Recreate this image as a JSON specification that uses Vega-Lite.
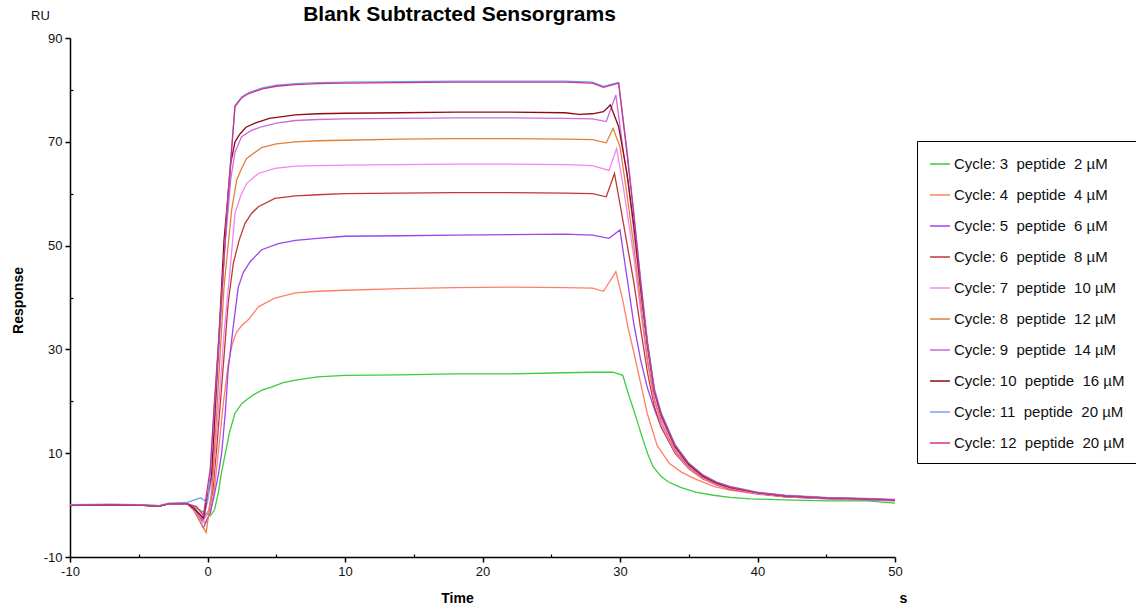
{
"$schema":"https://vega.github.io/schema/vega-lite/v6.json",
"width":825,"height":519,
"autosize":{"type":"none"},
"padding":{"left":70,"top":38,"right":241,"bottom":55},
"background":"white",
"config":{"view":{"stroke":null},"font":"Liberation Sans"},
"title":{"text":"Blank Subtracted Sensorgrams","fontSize":21,"fontWeight":"bold","font":"Liberation Sans","color":"#000","anchor":"middle","dx":-23,"dy":20,"offset":4},
"datasets":{
"names":[
{"c":3,"lab":"Cycle: 3\u00a0 peptide\u00a0 2 µM"},
{"c":4,"lab":"Cycle: 4\u00a0 peptide\u00a0 4 µM"},
{"c":5,"lab":"Cycle: 5\u00a0 peptide\u00a0 6 µM"},
{"c":6,"lab":"Cycle: 6\u00a0 peptide\u00a0 8 µM"},
{"c":7,"lab":"Cycle: 7\u00a0 peptide\u00a0 10 µM"},
{"c":8,"lab":"Cycle: 8\u00a0 peptide\u00a0 12 µM"},
{"c":9,"lab":"Cycle: 9\u00a0 peptide\u00a0 14 µM"},
{"c":10,"lab":"Cycle: 10\u00a0 peptide\u00a0 16 µM"},
{"c":11,"lab":"Cycle: 11\u00a0 peptide\u00a0 20 µM"},
{"c":12,"lab":"Cycle: 12\u00a0 peptide\u00a0 20 µM"}
],
"sg":[
{"c":3,"t":-10,"v":0},{"c":3,"t":-7,"v":0.1},{"c":3,"t":-5,"v":0.1},{"c":3,"t":-3.5,"v":-0.1},{"c":3,"t":-2.8,"v":0.3},{"c":3,"t":-1.5,"v":0.3},{"c":3,"t":-0.8,"v":-0.6},{"c":3,"t":-0.2,"v":-1.5},{"c":3,"t":0.2,"v":-2.1},{"c":3,"t":0.5,"v":-1},{"c":3,"t":0.8,"v":2.5},{"c":3,"t":1.0,"v":6},{"c":3,"t":1.3,"v":10},{"c":3,"t":1.6,"v":14},{"c":3,"t":2.0,"v":17.7},{"c":3,"t":2.5,"v":19.6},{"c":3,"t":3.3,"v":21.2},{"c":3,"t":4,"v":22.2},{"c":3,"t":4.7,"v":22.8},{"c":3,"t":5.5,"v":23.6},{"c":3,"t":6.4,"v":24.1},{"c":3,"t":8,"v":24.7},{"c":3,"t":10,"v":25.0},{"c":3,"t":14,"v":25.1},{"c":3,"t":18,"v":25.3},{"c":3,"t":22,"v":25.3},{"c":3,"t":26,"v":25.5},{"c":3,"t":28,"v":25.6},{"c":3,"t":29.5,"v":25.6},{"c":3,"t":30.2,"v":25.0},{"c":3,"t":30.6,"v":21.5},{"c":3,"t":31,"v":18.3},{"c":3,"t":31.6,"v":13.2},{"c":3,"t":32,"v":10},{"c":3,"t":32.4,"v":7.4},{"c":3,"t":33,"v":5.5},{"c":3,"t":33.5,"v":4.5},{"c":3,"t":34.4,"v":3.4},{"c":3,"t":35.5,"v":2.5},{"c":3,"t":36.8,"v":1.9},{"c":3,"t":38,"v":1.5},{"c":3,"t":39.5,"v":1.2},{"c":3,"t":42,"v":1.0},{"c":3,"t":45,"v":0.8},{"c":3,"t":48,"v":0.8},{"c":3,"t":50,"v":0.4},
{"c":4,"t":-10,"v":0},{"c":4,"t":-7,"v":0.1},{"c":4,"t":-5,"v":0},{"c":4,"t":-3.5,"v":-0.2},{"c":4,"t":-2.8,"v":0.3},{"c":4,"t":-1.5,"v":0.3},{"c":4,"t":-1,"v":-0.4},{"c":4,"t":-0.5,"v":-2},{"c":4,"t":-0.2,"v":-3.5},{"c":4,"t":0.2,"v":-1.5},{"c":4,"t":0.5,"v":3},{"c":4,"t":0.9,"v":13},{"c":4,"t":1.15,"v":19.6},{"c":4,"t":1.5,"v":27},{"c":4,"t":1.8,"v":31},{"c":4,"t":2.1,"v":33.3},{"c":4,"t":2.5,"v":34.6},{"c":4,"t":3,"v":35.8},{"c":4,"t":3.7,"v":38.2},{"c":4,"t":4.9,"v":39.9},{"c":4,"t":6.4,"v":40.9},{"c":4,"t":8,"v":41.2},{"c":4,"t":10,"v":41.4},{"c":4,"t":14,"v":41.7},{"c":4,"t":18,"v":41.9},{"c":4,"t":22,"v":42.0},{"c":4,"t":26,"v":41.9},{"c":4,"t":28,"v":41.8},{"c":4,"t":28.8,"v":41.2},{"c":4,"t":29.7,"v":45.0},{"c":4,"t":30.2,"v":39.5},{"c":4,"t":30.6,"v":34},{"c":4,"t":31,"v":29.5},{"c":4,"t":31.5,"v":23.5},{"c":4,"t":32,"v":17.5},{"c":4,"t":32.7,"v":11.5},{"c":4,"t":33.6,"v":8.0},{"c":4,"t":34.5,"v":6.3},{"c":4,"t":35.5,"v":5.0},{"c":4,"t":36.8,"v":3.6},{"c":4,"t":38,"v":2.9},{"c":4,"t":40,"v":2.1},{"c":4,"t":42,"v":1.6},{"c":4,"t":45,"v":1.3},{"c":4,"t":48,"v":1.1},{"c":4,"t":50,"v":0.9},
{"c":5,"t":-10,"v":0},{"c":5,"t":-7,"v":0.1},{"c":5,"t":-5,"v":0},{"c":5,"t":-3.5,"v":-0.2},{"c":5,"t":-2.8,"v":0.3},{"c":5,"t":-1.5,"v":0.3},{"c":5,"t":-1,"v":-0.8},{"c":5,"t":-0.3,"v":-4.4},{"c":5,"t":0.2,"v":-1.5},{"c":5,"t":0.5,"v":2},{"c":5,"t":0.8,"v":6},{"c":5,"t":1.03,"v":10},{"c":5,"t":1.3,"v":18},{"c":5,"t":1.5,"v":26},{"c":5,"t":1.9,"v":35},{"c":5,"t":2.24,"v":42},{"c":5,"t":2.6,"v":44.8},{"c":5,"t":3.1,"v":46.9},{"c":5,"t":3.94,"v":49.2},{"c":5,"t":5.15,"v":50.4},{"c":5,"t":6.4,"v":51.0},{"c":5,"t":8,"v":51.4},{"c":5,"t":10,"v":51.8},{"c":5,"t":14,"v":51.9},{"c":5,"t":18,"v":52.0},{"c":5,"t":22,"v":52.1},{"c":5,"t":26,"v":52.2},{"c":5,"t":28,"v":52.0},{"c":5,"t":29.2,"v":51.4},{"c":5,"t":30,"v":53.0},{"c":5,"t":30.5,"v":44},{"c":5,"t":31,"v":35},{"c":5,"t":31.5,"v":28},{"c":5,"t":32,"v":22.5},{"c":5,"t":32.5,"v":18.5},{"c":5,"t":33,"v":15},{"c":5,"t":33.6,"v":12.2},{"c":5,"t":34.2,"v":9.8},{"c":5,"t":34.85,"v":8},{"c":5,"t":36,"v":5.6},{"c":5,"t":37,"v":4.2},{"c":5,"t":38,"v":3.3},{"c":5,"t":40,"v":2.2},{"c":5,"t":42,"v":1.6},{"c":5,"t":45,"v":1.2},{"c":5,"t":48,"v":1.0},{"c":5,"t":50,"v":0.8},
{"c":6,"t":-10,"v":0},{"c":6,"t":-7,"v":0.1},{"c":6,"t":-5,"v":0},{"c":6,"t":-3.5,"v":-0.2},{"c":6,"t":-2.8,"v":0.3},{"c":6,"t":-1.5,"v":0.3},{"c":6,"t":-1,"v":-0.6},{"c":6,"t":-0.4,"v":-3},{"c":6,"t":0.1,"v":-1},{"c":6,"t":0.4,"v":3},{"c":6,"t":0.7,"v":12},{"c":6,"t":1.03,"v":22.8},{"c":6,"t":1.3,"v":32},{"c":6,"t":1.5,"v":38.9},{"c":6,"t":1.88,"v":46.6},{"c":6,"t":2.3,"v":51},{"c":6,"t":2.73,"v":54.3},{"c":6,"t":3.2,"v":56.2},{"c":6,"t":3.7,"v":57.5},{"c":6,"t":4.9,"v":59.1},{"c":6,"t":6.4,"v":59.6},{"c":6,"t":8,"v":59.8},{"c":6,"t":10,"v":60.0},{"c":6,"t":14,"v":60.1},{"c":6,"t":18,"v":60.2},{"c":6,"t":22,"v":60.2},{"c":6,"t":26,"v":60.1},{"c":6,"t":28,"v":60.0},{"c":6,"t":29,"v":59.4},{"c":6,"t":29.6,"v":63.9},{"c":6,"t":30.2,"v":55},{"c":6,"t":30.6,"v":49},{"c":6,"t":31,"v":43},{"c":6,"t":31.5,"v":34},{"c":6,"t":32,"v":25.5},{"c":6,"t":32.5,"v":19},{"c":6,"t":33,"v":15},{"c":6,"t":34,"v":10},{"c":6,"t":35,"v":7},{"c":6,"t":36,"v":5.1},{"c":6,"t":37,"v":3.9},{"c":6,"t":38,"v":3.1},{"c":6,"t":40,"v":2.2},{"c":6,"t":42,"v":1.7},{"c":6,"t":45,"v":1.3},{"c":6,"t":48,"v":1.1},{"c":6,"t":50,"v":0.9},
{"c":7,"t":-10,"v":0},{"c":7,"t":-7,"v":0.1},{"c":7,"t":-5,"v":0},{"c":7,"t":-3.5,"v":-0.2},{"c":7,"t":-2.8,"v":0.3},{"c":7,"t":-1.5,"v":0.3},{"c":7,"t":-1,"v":-0.8},{"c":7,"t":-0.4,"v":-3.5},{"c":7,"t":0.1,"v":-1},{"c":7,"t":0.4,"v":5},{"c":7,"t":0.7,"v":15},{"c":7,"t":1.2,"v":33},{"c":7,"t":1.64,"v":45.3},{"c":7,"t":2.0,"v":56.2},{"c":7,"t":2.4,"v":59.5},{"c":7,"t":2.85,"v":62.0},{"c":7,"t":3.7,"v":63.9},{"c":7,"t":4.9,"v":64.9},{"c":7,"t":6.4,"v":65.3},{"c":7,"t":8,"v":65.4},{"c":7,"t":10,"v":65.5},{"c":7,"t":14,"v":65.6},{"c":7,"t":18,"v":65.7},{"c":7,"t":22,"v":65.7},{"c":7,"t":26,"v":65.6},{"c":7,"t":28,"v":65.4},{"c":7,"t":29.2,"v":64.5},{"c":7,"t":29.75,"v":68.7},{"c":7,"t":30.2,"v":62},{"c":7,"t":30.6,"v":55},{"c":7,"t":31,"v":48},{"c":7,"t":31.5,"v":37.5},{"c":7,"t":32,"v":27.5},{"c":7,"t":32.5,"v":20},{"c":7,"t":33,"v":15.5},{"c":7,"t":34,"v":10.3},{"c":7,"t":35,"v":7.1},{"c":7,"t":36,"v":5.2},{"c":7,"t":37,"v":4.0},{"c":7,"t":38,"v":3.2},{"c":7,"t":40,"v":2.2},{"c":7,"t":42,"v":1.7},{"c":7,"t":45,"v":1.3},{"c":7,"t":48,"v":1.1},{"c":7,"t":50,"v":0.9},
{"c":8,"t":-10,"v":0},{"c":8,"t":-7,"v":0.1},{"c":8,"t":-5,"v":0},{"c":8,"t":-3.5,"v":-0.2},{"c":8,"t":-2.8,"v":0.3},{"c":8,"t":-1.5,"v":0.3},{"c":8,"t":-1,"v":-1},{"c":8,"t":-0.1,"v":-5.3},{"c":8,"t":0.3,"v":2},{"c":8,"t":0.7,"v":19},{"c":8,"t":1.2,"v":42},{"c":8,"t":1.76,"v":56.9},{"c":8,"t":2.12,"v":62.6},{"c":8,"t":2.5,"v":65},{"c":8,"t":2.85,"v":66.8},{"c":8,"t":3.94,"v":68.9},{"c":8,"t":5,"v":69.6},{"c":8,"t":6.4,"v":70.0},{"c":8,"t":8,"v":70.2},{"c":8,"t":10,"v":70.3},{"c":8,"t":14,"v":70.5},{"c":8,"t":18,"v":70.6},{"c":8,"t":22,"v":70.6},{"c":8,"t":26,"v":70.5},{"c":8,"t":28,"v":70.4},{"c":8,"t":29,"v":69.8},{"c":8,"t":29.5,"v":72.6},{"c":8,"t":30,"v":69},{"c":8,"t":30.5,"v":60},{"c":8,"t":31,"v":50},{"c":8,"t":31.5,"v":39},{"c":8,"t":32,"v":28},{"c":8,"t":32.5,"v":20.5},{"c":8,"t":33,"v":16},{"c":8,"t":34,"v":10.5},{"c":8,"t":35,"v":7.3},{"c":8,"t":36,"v":5.3},{"c":8,"t":37,"v":4.1},{"c":8,"t":38,"v":3.3},{"c":8,"t":40,"v":2.3},{"c":8,"t":42,"v":1.7},{"c":8,"t":45,"v":1.3},{"c":8,"t":48,"v":1.1},{"c":8,"t":50,"v":0.9},
{"c":9,"t":-10,"v":0},{"c":9,"t":-7,"v":0.1},{"c":9,"t":-5,"v":0},{"c":9,"t":-3.5,"v":-0.2},{"c":9,"t":-2.8,"v":0.3},{"c":9,"t":-1.5,"v":0.3},{"c":9,"t":-1,"v":-0.8},{"c":9,"t":-0.3,"v":-3},{"c":9,"t":0.3,"v":5},{"c":9,"t":0.7,"v":24},{"c":9,"t":1.2,"v":48},{"c":9,"t":1.7,"v":63},{"c":9,"t":2.0,"v":68},{"c":9,"t":2.48,"v":71.0},{"c":9,"t":3.2,"v":72.2},{"c":9,"t":3.94,"v":72.9},{"c":9,"t":5,"v":73.6},{"c":9,"t":6.4,"v":74.1},{"c":9,"t":8,"v":74.3},{"c":9,"t":10,"v":74.4},{"c":9,"t":14,"v":74.5},{"c":9,"t":18,"v":74.6},{"c":9,"t":22,"v":74.6},{"c":9,"t":26,"v":74.5},{"c":9,"t":28,"v":74.4},{"c":9,"t":29,"v":73.9},{"c":9,"t":29.7,"v":79.0},{"c":9,"t":30.2,"v":69},{"c":9,"t":30.6,"v":62},{"c":9,"t":31,"v":53},{"c":9,"t":31.5,"v":41},{"c":9,"t":32,"v":30},{"c":9,"t":32.5,"v":21.5},{"c":9,"t":33,"v":16.8},{"c":9,"t":34,"v":11},{"c":9,"t":35,"v":7.6},{"c":9,"t":36,"v":5.5},{"c":9,"t":37,"v":4.2},{"c":9,"t":38,"v":3.4},{"c":9,"t":40,"v":2.3},{"c":9,"t":42,"v":1.8},{"c":9,"t":45,"v":1.4},{"c":9,"t":48,"v":1.2},{"c":9,"t":50,"v":1.0},
{"c":10,"t":-10,"v":0},{"c":10,"t":-7,"v":0.1},{"c":10,"t":-5,"v":0},{"c":10,"t":-3.5,"v":-0.2},{"c":10,"t":-2.8,"v":0.3},{"c":10,"t":-1.5,"v":0.3},{"c":10,"t":-1,"v":-0.6},{"c":10,"t":-0.3,"v":-2.5},{"c":10,"t":0.3,"v":6},{"c":10,"t":0.7,"v":26},{"c":10,"t":1.2,"v":51},{"c":10,"t":1.7,"v":66},{"c":10,"t":2.0,"v":70},{"c":10,"t":2.36,"v":71.5},{"c":10,"t":2.8,"v":72.8},{"c":10,"t":3.45,"v":73.6},{"c":10,"t":4.5,"v":74.5},{"c":10,"t":6.4,"v":75.2},{"c":10,"t":8,"v":75.4},{"c":10,"t":10,"v":75.5},{"c":10,"t":14,"v":75.6},{"c":10,"t":18,"v":75.7},{"c":10,"t":22,"v":75.7},{"c":10,"t":26,"v":75.6},{"c":10,"t":27,"v":75.3},{"c":10,"t":28,"v":75.4},{"c":10,"t":28.8,"v":75.8},{"c":10,"t":29.3,"v":77.1},{"c":10,"t":29.9,"v":72.9},{"c":10,"t":30.5,"v":64},{"c":10,"t":31,"v":54},{"c":10,"t":31.5,"v":42},{"c":10,"t":32,"v":31},{"c":10,"t":32.5,"v":22},{"c":10,"t":33,"v":17.3},{"c":10,"t":34,"v":11.3},{"c":10,"t":35,"v":7.8},{"c":10,"t":36,"v":5.6},{"c":10,"t":37,"v":4.3},{"c":10,"t":38,"v":3.4},{"c":10,"t":40,"v":2.4},{"c":10,"t":42,"v":1.8},{"c":10,"t":45,"v":1.4},{"c":10,"t":48,"v":1.2},{"c":10,"t":50,"v":1.0},
{"c":11,"t":-10,"v":0.1},{"c":11,"t":-7,"v":0.2},{"c":11,"t":-5,"v":0.1},{"c":11,"t":-3.5,"v":-0.1},{"c":11,"t":-2.8,"v":0.4},{"c":11,"t":-1.5,"v":0.5},{"c":11,"t":-0.5,"v":1.4},{"c":11,"t":0,"v":0.5},{"c":11,"t":0.2,"v":6},{"c":11,"t":0.5,"v":19},{"c":11,"t":1.0,"v":38.5},{"c":11,"t":1.5,"v":60},{"c":11,"t":2.0,"v":77},{"c":11,"t":2.5,"v":78.7},{"c":11,"t":3,"v":79.5},{"c":11,"t":4,"v":80.4},{"c":11,"t":5,"v":80.9},{"c":11,"t":6.4,"v":81.2},{"c":11,"t":8,"v":81.4},{"c":11,"t":10,"v":81.5},{"c":11,"t":14,"v":81.6},{"c":11,"t":18,"v":81.7},{"c":11,"t":22,"v":81.7},{"c":11,"t":26,"v":81.7},{"c":11,"t":28,"v":81.5},{"c":11,"t":28.8,"v":80.7},{"c":11,"t":29.9,"v":81.4},{"c":11,"t":30.5,"v":68.5},{"c":11,"t":31,"v":56.5},{"c":11,"t":31.5,"v":43.5},{"c":11,"t":32,"v":31.5},{"c":11,"t":32.5,"v":22.5},{"c":11,"t":33,"v":17.8},{"c":11,"t":34,"v":11.7},{"c":11,"t":35,"v":8.1},{"c":11,"t":36,"v":5.9},{"c":11,"t":37,"v":4.5},{"c":11,"t":38,"v":3.6},{"c":11,"t":40,"v":2.5},{"c":11,"t":42,"v":1.9},{"c":11,"t":45,"v":1.5},{"c":11,"t":48,"v":1.3},{"c":11,"t":50,"v":1.1},
{"c":12,"t":-10,"v":0},{"c":12,"t":-7,"v":0.1},{"c":12,"t":-5,"v":0},{"c":12,"t":-3.5,"v":-0.2},{"c":12,"t":-2.8,"v":0.3},{"c":12,"t":-1.5,"v":0.3},{"c":12,"t":-0.8,"v":-0.3},{"c":12,"t":-0.3,"v":-2},{"c":12,"t":0.2,"v":7},{"c":12,"t":0.5,"v":19.7},{"c":12,"t":1.0,"v":39},{"c":12,"t":1.5,"v":60},{"c":12,"t":2.0,"v":76.8},{"c":12,"t":2.5,"v":78.5},{"c":12,"t":3,"v":79.3},{"c":12,"t":4,"v":80.2},{"c":12,"t":5,"v":80.7},{"c":12,"t":6.4,"v":81.0},{"c":12,"t":8,"v":81.2},{"c":12,"t":10,"v":81.3},{"c":12,"t":14,"v":81.4},{"c":12,"t":18,"v":81.5},{"c":12,"t":22,"v":81.5},{"c":12,"t":26,"v":81.5},{"c":12,"t":28,"v":81.3},{"c":12,"t":28.8,"v":80.5},{"c":12,"t":29.9,"v":81.3},{"c":12,"t":30.5,"v":68},{"c":12,"t":31,"v":56},{"c":12,"t":31.5,"v":43},{"c":12,"t":32,"v":31},{"c":12,"t":32.5,"v":22},{"c":12,"t":33,"v":17.5},{"c":12,"t":34,"v":11.5},{"c":12,"t":35,"v":8.0},{"c":12,"t":36,"v":5.8},{"c":12,"t":37,"v":4.4},{"c":12,"t":38,"v":3.5},{"c":12,"t":40,"v":2.4},{"c":12,"t":42,"v":1.8},{"c":12,"t":45,"v":1.4},{"c":12,"t":48,"v":1.2},{"c":12,"t":50,"v":1.0}
]
},
"layer":[
{
"data":{"name":"sg"},
"transform":[{"lookup":"c","from":{"data":{"name":"names"},"key":"c","fields":["lab"]}}],
"mark":{"type":"line","strokeWidth":1.3},
"encoding":{
"x":{"field":"t","type":"quantitative","scale":{"domain":[-10,50],"nice":false,"zero":false},
"axis":{"values":[-10,0,10,20,30,40,50],"labelExpr":"'' + datum.value","grid":false,"domainColor":"#000","domainWidth":1.5,"tickColor":"#000","tickWidth":1.5,"tickSize":5,"labelFontSize":13,"labelColor":"#111","labelPadding":3,"labelFont":"Liberation Sans","title":"Time","titleFont":"Liberation Sans","titleFontSize":14,"titleFontWeight":"bold","titleColor":"#000","titleX":387,"titleY":41,"titleAlign":"center","titleBaseline":"middle","labelFlush":false}},
"y":{"field":"v","type":"quantitative","scale":{"domain":[-10,90],"nice":false,"zero":false},
"axis":{"values":[-10,10,30,50,70,90],"labelExpr":"'' + datum.value","grid":false,"domainColor":"#000","domainWidth":1.5,"tickColor":"#000","tickWidth":1.5,"tickSize":5,"labelFontSize":13,"labelColor":"#111","labelPadding":3,"labelFont":"Liberation Sans","title":"Response","titleFont":"Liberation Sans","titleFontSize":14,"titleFontWeight":"bold","titleColor":"#000","titleAngle":-90,"titleX":-52,"titleY":262,"titleAlign":"center","titleBaseline":"middle","labelFlush":false}},
"color":{"field":"lab","type":"nominal",
"scale":{"domain":["Cycle: 3\u00a0 peptide\u00a0 2 µM","Cycle: 4\u00a0 peptide\u00a0 4 µM","Cycle: 5\u00a0 peptide\u00a0 6 µM","Cycle: 6\u00a0 peptide\u00a0 8 µM","Cycle: 7\u00a0 peptide\u00a0 10 µM","Cycle: 8\u00a0 peptide\u00a0 12 µM","Cycle: 9\u00a0 peptide\u00a0 14 µM","Cycle: 10\u00a0 peptide\u00a0 16 µM","Cycle: 11\u00a0 peptide\u00a0 20 µM","Cycle: 12\u00a0 peptide\u00a0 20 µM"],
"range":["#3ccc3c","#ff7f66","#9b45ee","#c03838","#f285f2","#e0803a","#c86ddc","#900a14","#72a0ee","#d0308c"]},
"legend":{"orient":"none","legendX":847,"legendY":103,"title":null,"strokeColor":"#000","fillColor":"#fff","padding":12,"rowPadding":12,"symbolType":"stroke","symbolSize":400,"symbolStrokeWidth":1.5,"labelFont":"Liberation Sans","labelFontSize":15,"labelColor":"#111","labelLimit":400,"labelOffset":3}}
}
},
{
"data":{"values":[]},
"mark":{"type":"point","opacity":0},
"encoding":{
"x":{"field":"t","type":"quantitative","scale":{"domain":[-10,50],"nice":false,"zero":false},
"axis":{"orient":"bottom","values":[-5,5,15,25,35,45],"grid":false,"domain":false,"labels":false,"tickColor":"#000","tickWidth":1.2,"tickSize":-3,"title":"s","titleFont":"Liberation Sans","titleFontSize":14,"titleFontWeight":"bold","titleColor":"#000","titleX":833,"titleY":41,"titleAlign":"center","titleBaseline":"middle"}},
"y":{"field":"v","type":"quantitative","scale":{"domain":[-10,90],"nice":false,"zero":false},
"axis":{"orient":"left","values":[0,20,40,60,80],"grid":false,"domain":false,"labels":false,"tickColor":"#000","tickWidth":1.2,"tickSize":-3,"title":"RU","titleFont":"Liberation Sans","titleFontSize":13,"titleFontWeight":"normal","titleColor":"#111","titleAngle":0,"titleX":-30,"titleY":-23,"titleAlign":"center","titleBaseline":"middle"}}
}
}
],
"resolve":{"axis":{"x":"independent","y":"independent"}}
}
